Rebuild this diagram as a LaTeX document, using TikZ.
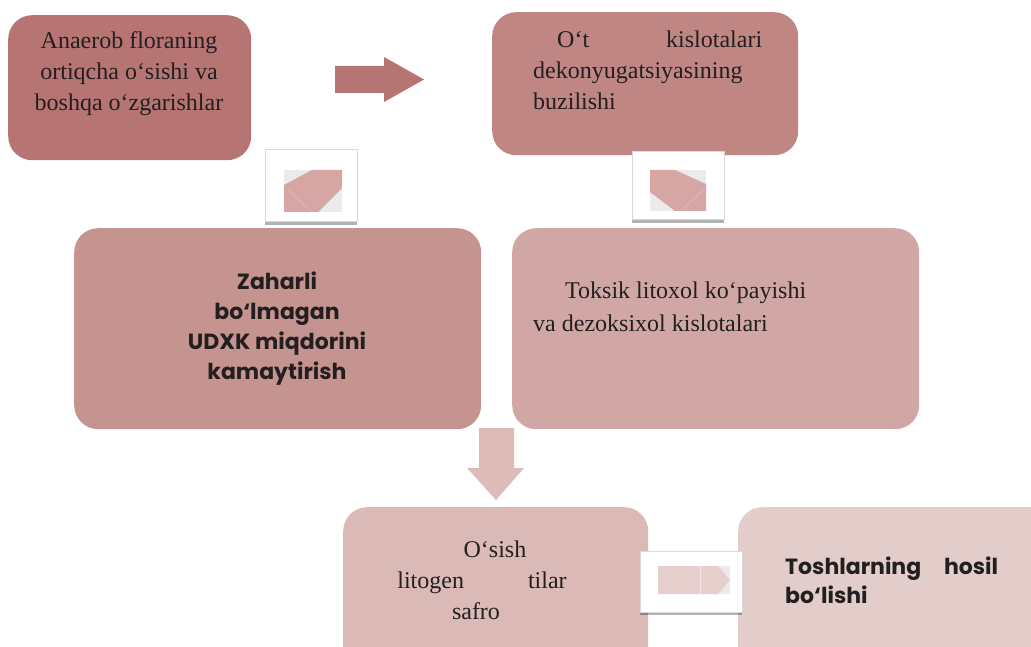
\documentclass[tikz,border=0pt]{standalone}
\usepackage{fontspec}
\setmainfont{Liberation Serif}
\newfontfamily\gothic{Poppins}
\usetikzlibrary{shadows}

\definecolor{ink}{HTML}{231F20}
\definecolor{roseA}{HTML}{B67473}
\definecolor{roseB}{HTML}{BF8684}
\definecolor{roseC}{HTML}{C69490}
\definecolor{roseD}{HTML}{D0A7A5}
\definecolor{roseE}{HTML}{DAB9B6}
\definecolor{roseF}{HTML}{E3CDCA}
\definecolor{downrose}{HTML}{DCBBB9}
\definecolor{iconpink}{HTML}{D6A6A5}
\definecolor{iconlight}{HTML}{E7CFCD}
\definecolor{icongrey}{HTML}{EBEBEB}

\begin{document}
\begin{tikzpicture}[x=1pt, y=-1pt,
  box/.style={rounded corners=24pt, inner sep=0pt, anchor=north west},
  serif/.style={text=ink, inner sep=0pt, font=\fontsize{24}{31}\selectfont},
  gothic/.style={text=ink, inner sep=0pt, font=\gothic\bfseries\fontsize{22}{30}\selectfont},
  icon/.style={fill=white, draw=black!15, line width=1pt, inner sep=0pt,
    drop shadow={shadow xshift=0pt, shadow yshift=-3pt, fill=black, opacity=.3}}]
  \useasboundingbox (0,0) rectangle (1031,647);

  \node[box, fill=roseA, minimum width=243pt, minimum height=145pt] (anaerob) at (8,15) {};
  \node[box, fill=roseB, minimum width=306pt, minimum height=143pt] (otkislota) at (492,12) {};
  \node[box, fill=roseC, minimum width=407pt, minimum height=201pt] (zaharli) at (74,228) {};
  \node[box, fill=roseD, minimum width=407pt, minimum height=201pt] (toksik) at (512,228) {};
  \node[box, fill=roseE, minimum width=305pt, minimum height=170pt] (osish) at (343,507) {};
  \node[box, fill=roseF, minimum width=330pt, minimum height=170pt] (tosh) at (738,507) {};

  \node[serif, align=center, anchor=north] (anaerobtxt) at (129,31.6)
    {Anaerob floraning\\ortiqcha o‘sishi va\\boshqa o‘zgarishlar};
  \node[serif, align=justify, text width=229pt, anchor=north west] (otkislotatxt) at (533,30.6)
    {\hspace*{24pt}O‘t kislotalari\linebreak dekonyugatsiyasining\\buzilishi};
  \node[gothic, align=center, anchor=north] (zaharlitxt) at (277,271.5)
    {Zaharli\\bo‘lmagan\\UDXK miqdorini\\kamaytirish};
  \node[serif, align=left, anchor=north west, font=\fontsize{24}{33}\selectfont] (toksiktxt) at (533,281.6)
    {\hspace*{32pt}Toksik litoxol ko‘payishi\\va dezoksixol kislotalari};
  \node[serif, align=center, anchor=north] (osishtxt) at (482,540.6)
    {\hspace*{26pt}O‘sish\\litogen\hspace{64pt}tilar\\safro\hspace*{12pt}};
  \node[gothic, align=justify, text width=213pt, anchor=north west, font=\gothic\bfseries\fontsize{22}{29}\selectfont] (toshtxt) at (785,556.5)
    {Toshlarning hosil\linebreak bo‘lishi};

  \fill[roseA] (335,66) -- (384,66) -- (384,57) -- (424,79.5) -- (384,102) -- (384,93) -- (335,93) -- cycle;
  \fill[downrose] (479,428) -- (514,428) -- (514,468) -- (524,468) -- (496,500) -- (467,468) -- (479,468) -- cycle;

  \node[icon, minimum width=92pt, minimum height=72pt] (iconleft) at (311,186) {};
  \fill[icongrey] (284,170) rectangle (342,212);
  \fill[iconpink] (312,170) -- (342,170) -- (342,188) -- (318,212) -- (284,212) -- (284,185) -- cycle;
  \draw[white, opacity=.35] (288,190) -- (312,212);

  \node[icon, minimum width=92pt, minimum height=68pt] (iconright) at (678,186) {};
  \fill[icongrey] (650,170) rectangle (706,211);
  \fill[iconpink] (650,170) -- (675,170) -- (706,184) -- (706,211) -- (675,211) -- (650,192) -- cycle;
  \draw[white, opacity=.35] (682,210) -- (705,188);

  \node[icon, minimum width=102pt, minimum height=61pt] (iconbottom) at (691,581.5) {};
  \fill[icongrey] (658,566) rectangle (730,594);
  \fill[iconlight] (658,566) -- (718,566) -- (730,580) -- (718,594) -- (658,594) -- cycle;
  \draw[white, opacity=.5] (700,566) -- (700,594);
\end{tikzpicture}
\end{document}
